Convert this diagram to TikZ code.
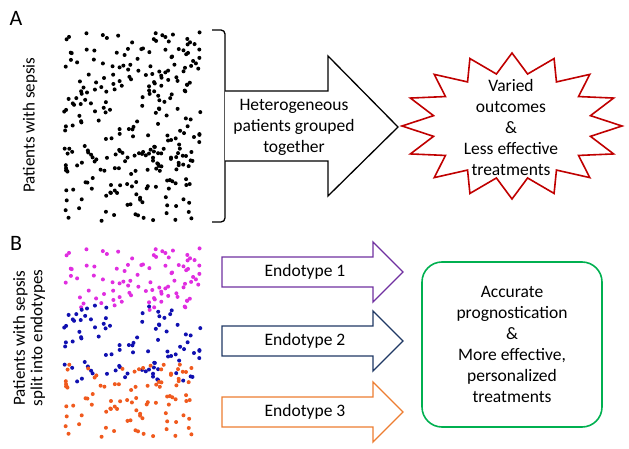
\documentclass[tikz,border=0pt]{standalone}
\usepackage{fontspec}
\setmainfont{Carlito}
\usepackage{tikz}
\usetikzlibrary{positioning, calc}

\definecolor{burstred}{HTML}{C00000}
\definecolor{endoone}{HTML}{7030A0}
\definecolor{endotwo}{HTML}{1F3864}
\definecolor{endothree}{HTML}{ED7D31}
\definecolor{goodgreen}{HTML}{00B050}
\definecolor{dotmagenta}{HTML}{E02EE0}
\definecolor{dotblue}{HTML}{1010B0}
\definecolor{dotorange}{HTML}{F05A1E}

% scattered patients, #1 = vertical offset, #2-#4 = colours of the three groups
\newcommand{\sepsisdots}[4]{%
  \foreach \k/\col/\xw/\ytop/\yh in {1/#2/138/32/62, 2/#3/143/88/78, 3/#4/130/148/74}{
    \foreach \i in {1,...,93}{
      \pgfmathsetmacro\dx{62+\xw*abs(frac(sin(\i*71.3+\k*13.1)*4371.3))}
      \pgfmathsetmacro\dy{#1+\ytop+\yh*abs(frac(sin(\i*119.7+\k*29.3)*3917.9))}
      \fill[\col] (\dx,\dy) circle (2pt);}}
}

\begin{document}
\begin{tikzpicture}[x=1pt, y=-1pt,
    txt/.style={font=\fontsize{17.5}{21}\selectfont, align=center, inner sep=0pt},
    panel/.style={font=\fontsize{22}{24}\selectfont, inner sep=0pt},
    side/.style={font=\fontsize{17}{17.5}\selectfont, align=center, rotate=90, inner sep=0pt},
    blockarrow/.style={line width=1.3pt, fill=white, line join=miter}]
    \useasboundingbox (0,0) rectangle (629,449);

    % panel A
    \node[panel] (labA) at (16,18) {A};
    \node[side] (sideA) at (30,125) {Patients with sepsis};
    \sepsisdots{0}{black}{black}{black}
    \draw[line width=1.3pt, rounded corners=4pt] (212,30) -- (225,30) -- (225,222) -- (212,222);
    \draw[blockarrow] (225,91) -- (328,91) -- (328,56) -- (398,127) -- (328,196) -- (328,161) -- (225,161);
    \node[txt] (group) at (294,127) {Heterogeneous\\patients grouped\\together};
    \draw[burstred, line width=1.6pt, fill=white]
        plot[samples at={0,...,31}] ({512+(mod(\x,2)==0 ? 110 : 80)*cos(90-\x*11.25)},
                                      {126-(mod(\x,2)==0 ? 73 : 53)*sin(90-\x*11.25)}) -- cycle;
    \node[txt] (varied) at (511,127) {Varied\\outcomes\\\&\\Less effective\\treatments};

    % panel B
    \node[panel] (labB) at (16,243) {B};
    \node[side] (sideB) at (29,338) {Patients with sepsis\\split into endotypes};
    \sepsisdots{216}{dotmagenta}{dotblue}{dotorange}
    \foreach \yc/\col/\n in {272/endoone/1, 341/endotwo/2, 412/endothree/3}{
        \draw[blockarrow, draw=\col] (222,\yc-15) -- (373,\yc-15) -- (373,\yc-30) -- (403,\yc)
            -- (373,\yc+30) -- (373,\yc+15) -- (222,\yc+15) -- cycle;
        \node[txt] (endo\n) at (305,\yc) {Endotype \n};
    }
    \node[draw=goodgreen, line width=1.6pt, rounded corners=20pt, minimum width=180pt,
          minimum height=165pt, txt] (accurate) at (512,344.5)
          {Accurate\\prognostication\\\&\\More effective,\\personalized\\treatments};
\end{tikzpicture}
\end{document}
